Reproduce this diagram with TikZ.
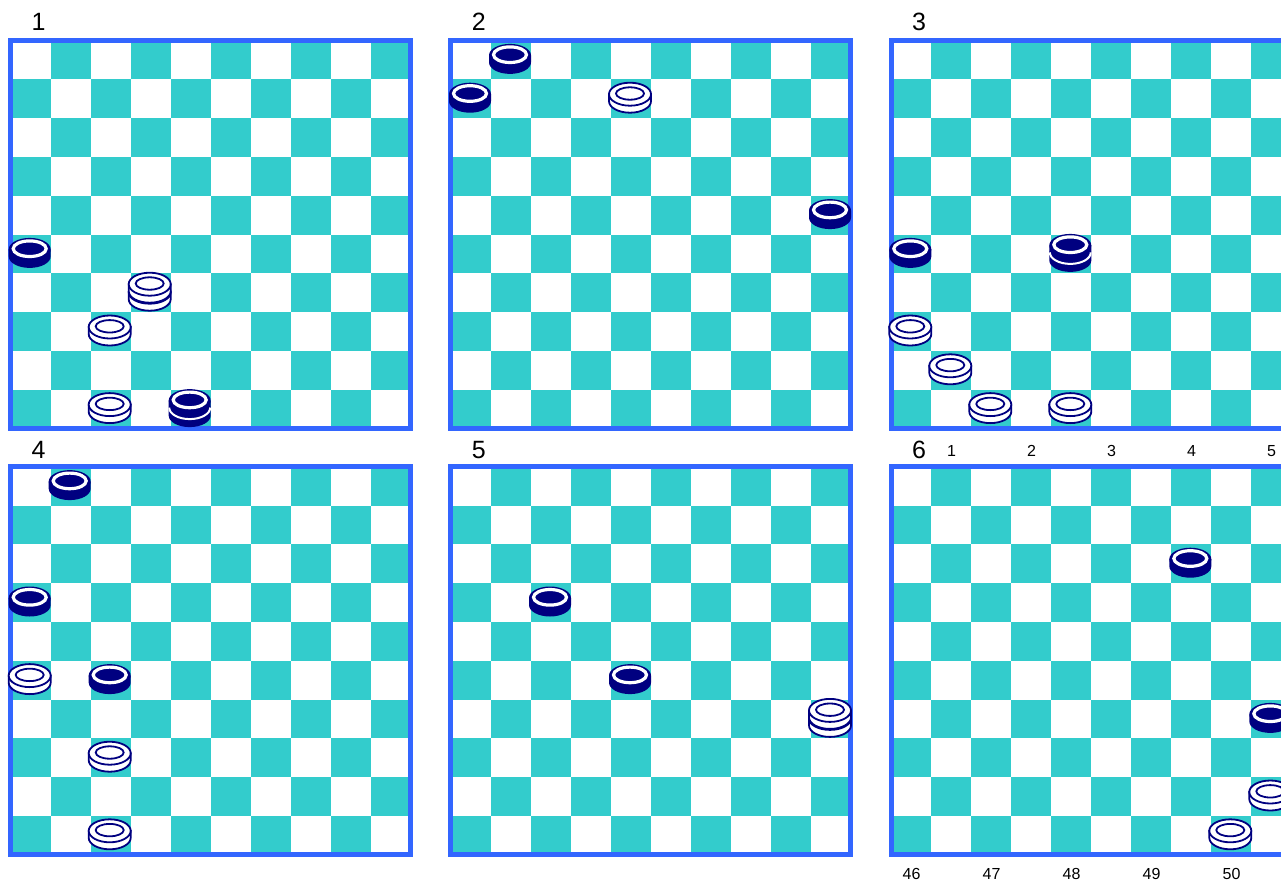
\documentclass[tikz,border=0pt]{standalone}
\usepackage{fontspec}
\setmainfont{Liberation Sans}
\definecolor{sqteal}{RGB}{51,204,204}
\definecolor{frameblue}{RGB}{51,102,255}
\definecolor{mannavy}{RGB}{0,0,128}
\tikzset{
  boardframe/.style={draw=frameblue, line width=5pt},
  darksq/.style={fill=sqteal},
  boardlabel/.style={font=\fontsize{25}{25}\selectfont, inner sep=0pt, anchor=center},
  coordlabel/.style={font=\fontsize{16}{16}\selectfont, inner sep=0pt, anchor=center},
  whiteline/.style={draw=mannavy, line width=1.8pt},
}
% board: #1 = left x, #2 = top y
\newcommand\drawboard[2]{%
  \foreach \rr in {0,...,9} {%
    \foreach \kk in {0,...,4} {%
      \pgfmathsetmacro\xl{#1 + (2*\kk + 1 - mod(\rr,2))*40}%
      \pgfmathsetmacro\yt{#2 + \rr*38.8}%
      \fill[darksq] (\xl,\yt) rectangle ++(40,38.8);
    }%
  }%
  \draw[boardframe] (#1,#2) rectangle ++(400,388);
}
% one disc layer, #1 = x, #2 = y (centre of layer)
\newcommand\wlayer[2]{%
  \filldraw[fill=white, whiteline] ({#1-21},{#2-3.5}) -- ({#1-21},{#2+3.5})
     arc[start angle=180, end angle=0, x radius=21, y radius=11.5] -- ({#1+21},{#2-3.5}) -- cycle;
  \filldraw[fill=white, whiteline] (#1,{#2-3.5}) ellipse [x radius=21, y radius=11.5];
  \draw[whiteline] (#1,{#2-4.2}) ellipse [x radius=14, y radius=6.2];
}
\newcommand\blayer[3]{%
  \fill[mannavy] ({#1-21},{#2-3.5}) -- ({#1-21},{#2+3.5})
     arc[start angle=180, end angle=0, x radius=21, y radius=11.5] -- ({#1+21},{#2-3.5}) -- cycle;
  \ifnum#3=1
    \draw[white, line width=2pt] ({#1-20.5},{#2+3.5})
       arc[start angle=180, end angle=0, x radius=20.5, y radius=11.5];
  \fi
  \fill[mannavy] (#1,{#2-3.5}) ellipse [x radius=21, y radius=11.5];
  \draw[white, line width=3.2pt] (#1,{#2-4.2}) ellipse [x radius=16.5, y radius=7.8];
}
% men and kings: #1,#2 board origin, #3 column, #4 row
\newcommand\wman[4]{%
  \pgfmathsetmacro\px{#1+(#3-0.5)*40-0.8}%
  \pgfmathsetmacro\py{#2+(#4-0.5)*38.8-1}%
  \wlayer{\px}{\py}%
}
\newcommand\bman[4]{%
  \pgfmathsetmacro\px{#1+(#3-0.5)*40-0.8}%
  \pgfmathsetmacro\py{#2+(#4-0.5)*38.8-1}%
  \blayer{\px}{\py}{0}%
}
\newcommand\wking[4]{%
  \pgfmathsetmacro\px{#1+(#3-0.5)*40-0.8}%
  \pgfmathsetmacro\pya{#2+(#4-0.5)*38.8+3}%
  \pgfmathsetmacro\pyb{#2+(#4-0.5)*38.8-5}%
  \wlayer{\px}{\pya}%
  \wlayer{\px}{\pyb}%
}
\newcommand\bking[4]{%
  \pgfmathsetmacro\px{#1+(#3-0.5)*40-0.8}%
  \pgfmathsetmacro\pya{#2+(#4-0.5)*38.8+3}%
  \pgfmathsetmacro\pyb{#2+(#4-0.5)*38.8-5}%
  \blayer{\px}{\pya}{0}%
  \blayer{\px}{\pyb}{1}%
}
\begin{document}
\begin{tikzpicture}[x=1pt,y=-1pt]
\useasboundingbox (0,0) rectangle (1281,881);
\clip (0,0) rectangle (1281,881);
\fill[white] (0,0) rectangle (1281,881);

% boards
\drawboard{10.5}{40.5}
\drawboard{450.8}{40.5}
\drawboard{891.1}{40.5}
\drawboard{10.5}{466.7}
\drawboard{450.8}{466.7}
\drawboard{891.1}{466.7}

% board numbers
\node[boardlabel] (n1) at (38.5,22) {1};
\node[boardlabel] (n2) at (478.8,22) {2};
\node[boardlabel] (n3) at (919.1,22) {3};
\node[boardlabel] (n4) at (38.5,450) {4};
\node[boardlabel] (n5) at (478.8,450) {5};
\node[boardlabel] (n6) at (919.1,450) {6};

% square numbers of board 6
\node[coordlabel] (t1) at (951.6,451) {1};
\node[coordlabel] (t2) at (1031.6,451) {2};
\node[coordlabel] (t3) at (1111.6,451) {3};
\node[coordlabel] (t4) at (1191.6,451) {4};
\node[coordlabel] (t5) at (1271.6,451) {5};
\node[coordlabel] (b46) at (911.6,874) {46};
\node[coordlabel] (b47) at (991.6,874) {47};
\node[coordlabel] (b48) at (1071.6,874) {48};
\node[coordlabel] (b49) at (1151.6,874) {49};
\node[coordlabel] (b50) at (1231.6,874) {50};

% board 1
\bman{10.5}{40.5}{1}{6}
\wking{10.5}{40.5}{4}{7}
\wman{10.5}{40.5}{3}{8}
\wman{10.5}{40.5}{3}{10}
\bking{10.5}{40.5}{5}{10}

% board 2
\bman{450.8}{40.5}{2}{1}
\bman{450.8}{40.5}{1}{2}
\wman{450.8}{40.5}{5}{2}
\bman{450.8}{40.5}{10}{5}

% board 3
\bman{891.1}{40.5}{1}{6}
\bking{891.1}{40.5}{5}{6}
\wman{891.1}{40.5}{1}{8}
\wman{891.1}{40.5}{2}{9}
\wman{891.1}{40.5}{3}{10}
\wman{891.1}{40.5}{5}{10}

% board 4
\bman{10.5}{466.7}{2}{1}
\bman{10.5}{466.7}{1}{4}
\wman{10.5}{466.7}{1}{6}
\bman{10.5}{466.7}{3}{6}
\wman{10.5}{466.7}{3}{8}
\wman{10.5}{466.7}{3}{10}

% board 5
\bman{450.8}{466.7}{3}{4}
\bman{450.8}{466.7}{5}{6}
\wking{450.8}{466.7}{10}{7}

% board 6
\bman{891.1}{466.7}{8}{3}
\bman{891.1}{466.7}{10}{7}
\wman{891.1}{466.7}{10}{9}
\wman{891.1}{466.7}{9}{10}
\end{tikzpicture}
\end{document}
